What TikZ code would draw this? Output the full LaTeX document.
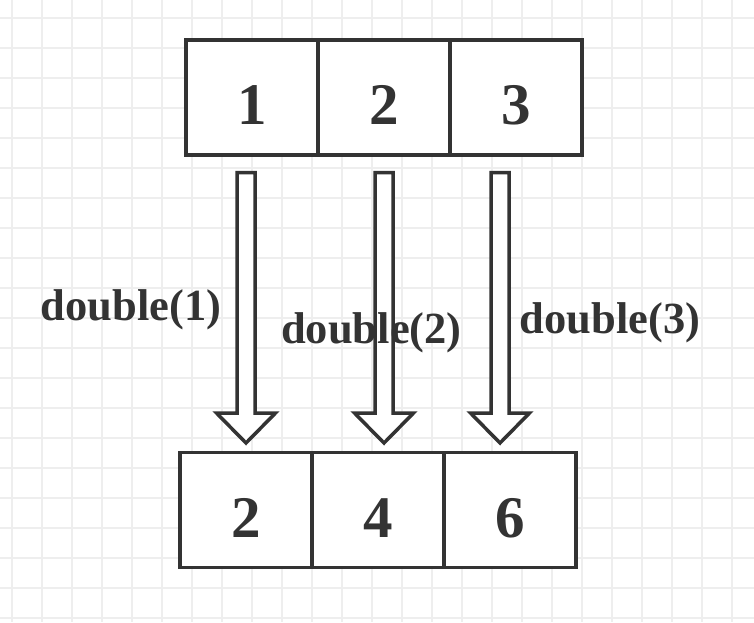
\documentclass[tikz,border=0pt]{standalone}
\usepackage{fontspec}
\setmainfont{Liberation Serif}
\usetikzlibrary{positioning}
\definecolor{ink}{HTML}{333333}
\definecolor{gridgray}{HTML}{EEEEEE}
\begin{document}
\begin{tikzpicture}[x=1pt,y=-1pt,
	cell/.style={draw=ink,fill=white,line width=3.5pt,minimum width=132pt,minimum height=115pt,inner sep=0pt,outer sep=0pt,
		text=ink,font=\fontsize{59}{59}\selectfont\bfseries,text height=54pt,text depth=0pt},
	lbl/.style={text=ink,font=\fontsize{44.5}{44.5}\selectfont\bfseries,anchor=base,inner sep=0pt},
	blockarrow/.style={draw=ink,fill=white,line width=3.5pt,line join=miter}]
	\useasboundingbox (0,0) rectangle (754,622);
	\fill[white] (0,0) rectangle (754,622);
	% background grid
	\foreach \g in {12,42,...,732} \draw[gridgray,line width=1.5pt] (\g,0) -- (\g,622);
	\foreach \g in {18,48,...,618} \draw[gridgray,line width=1.5pt] (0,\g) -- (754,\g);

	% input list
	\node[cell] (a1) at (252,97.5) {1};
	\node[cell,right=0pt of a1] (a2) {2};
	\node[cell,right=0pt of a2] (a3) {3};

	% output list
	\node[cell] (b1) at (246,510) {2};
	\node[cell,right=0pt of b1] (b2) {4};
	\node[cell,right=0pt of b2] (b3) {6};

	% map arrows
	\foreach \x in {246,384,500}
		\draw[blockarrow] (\x-9,172.5) -- (\x+9,172.5) -- (\x+9,413) -- (\x+29.5,413) -- (\x,443)
			-- (\x-29.5,413) -- (\x-9,413) -- cycle;

	\node[lbl] (l1) at (131,320) {double(1)};
	\node[lbl] (l2) at (371.5,343) {double(2)};
	\node[lbl] (l3) at (610,333) {double(3)};
\end{tikzpicture}
\end{document}
